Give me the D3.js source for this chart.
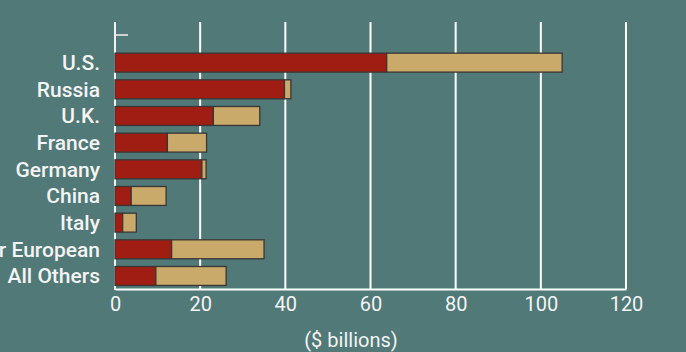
<!DOCTYPE html>
<html><head><meta charset="utf-8">
<script src="https://cdn.jsdelivr.net/npm/d3@7"></script>
<style>
html,body{margin:0;padding:0;background:#507977;}
svg{display:block;}
</style></head>
<body>
<svg id="chart" width="686" height="352"></svg>
<script>
const categories = ["U.S.","Russia","U.K.","France","Germany","China","Italy","Other European","All Others"];
const redValues = [63.8, 39.8, 23.1, 12.3, 20.4, 3.8, 1.8, 13.3, 9.6];
const tanValues = [41.2, 1.5, 10.9, 9.2, 1.0, 8.2, 3.2, 21.7, 16.5];
const xTicks = [0,20,40,60,80,100,120];
const axisTitle = "($ billions)";

const svg = d3.select("#chart");
const W = 686, H = 352;
svg.append("rect").attr("width",W).attr("height",H).attr("fill","#507977");

const x0 = 115, x1 = 626, yTop = 22, yAxis = 289;
const x = d3.scaleLinear().domain([0,120]).range([x0,x1]);
const y = d3.scaleBand().domain(categories).range([49.3, 289.3]).paddingInner(0.29).paddingOuter(0.145);

const font = "Roboto, sans-serif";

// grid lines
const g = svg.append("g");
g.selectAll("line.grid").data(xTicks.slice(1)).join("line")
  .attr("x1",d=>x(d)).attr("x2",d=>x(d)).attr("y1",yTop).attr("y2",yAxis)
  .attr("stroke","#ffffff").attr("stroke-width",2);
// left axis line
g.append("line").attr("x1",x0).attr("x2",x0).attr("y1",yTop).attr("y2",yAxis+1)
  .attr("stroke","#f2f2f2").attr("stroke-width",2);
g.append("line").attr("x1",x0).attr("x2",x0+13).attr("y1",35).attr("y2",35)
  .attr("stroke","#f2f2f2").attr("stroke-width",1.5);

// bottom axis
const xAxis = d3.axisBottom(x).tickValues(xTicks).tickSize(0).tickPadding(8);
const ax = svg.append("g").attr("transform",`translate(0,${yAxis})`).call(xAxis);
ax.select(".domain").attr("stroke","#ffffff").attr("stroke-width",2);
ax.selectAll("text").attr("fill","#f4f4f4").style("font-family",font).style("font-size","20px").attr("font-weight",400);

// bars
const stack = categories.map((c,i)=>({c, r:redValues[i], t:tanValues[i]}));
const bars = svg.append("g");
bars.selectAll("rect.red").data(stack).join("rect")
  .attr("x",x(0)).attr("y",d=>y(d.c)).attr("width",d=>x(d.r)-x(0)).attr("height",y.bandwidth())
  .attr("fill","#a01d14").attr("stroke","#3b3633").attr("stroke-width",1.3);
bars.selectAll("rect.tan").data(stack).join("rect")
  .attr("x",d=>x(d.r)).attr("y",d=>y(d.c)).attr("width",d=>x(d.r+d.t)-x(d.r)).attr("height",y.bandwidth())
  .attr("fill","#c9aa6b").attr("stroke","#3b3633").attr("stroke-width",1.3);

// category labels
svg.append("g").selectAll("text").data(categories).join("text")
  .attr("x",100).attr("y",d=>y(d)+y.bandwidth()/2+7.5)
  .attr("text-anchor","end").attr("fill","#f4f4f4")
  .style("font-family",font).style("font-size","21px").attr("font-weight",500)
  .text(d=>d);

// axis title
svg.append("text").attr("x",351).attr("y",347).attr("text-anchor","middle")
  .attr("fill","#f4f4f4").style("font-family",font).style("font-size","20px")
  .text(axisTitle);
</script>
</body></html>
